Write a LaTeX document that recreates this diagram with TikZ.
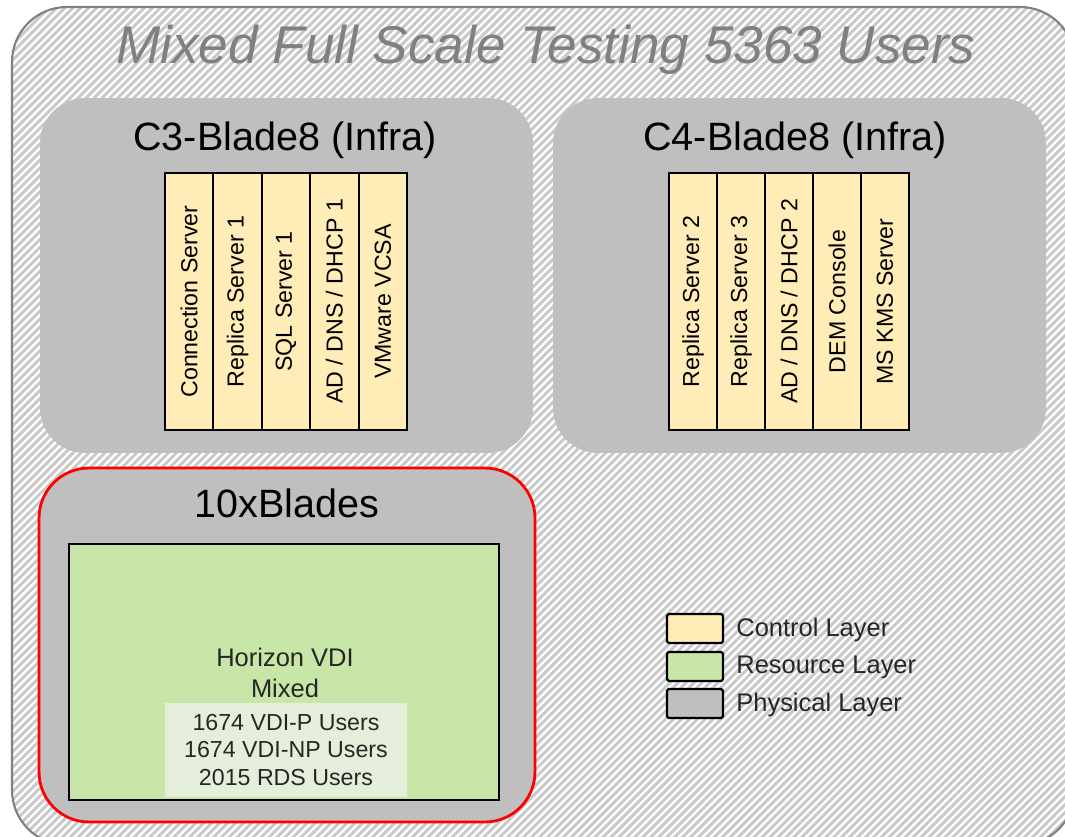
\documentclass[tikz,border=0pt]{standalone}
\usepackage{fontspec}
\setmainfont{Liberation Sans}
\usepackage{xcolor}
\usepackage{tikz}
\usetikzlibrary{patterns.meta}
\definecolor{ctrlfill}{RGB}{255,236,182}
\definecolor{resfill}{RGB}{200,230,168}
\definecolor{physfill}{RGB}{191,191,191}
\definecolor{statfill}{RGB}{229,238,218}
\definecolor{framegray}{RGB}{128,128,128}
\tikzset{
  hostbox/.style={fill=physfill,rounded corners=0.9cm,inner sep=0pt,
    minimum width=9.86cm,minimum height=7.1cm},
  vmbox/.style={draw=black,line width=1.1pt,fill=ctrlfill,rotate=90,inner sep=0pt,
    minimum width=5.14cm,minimum height=0.97cm,font=\fontsize{13.2}{15}\selectfont},
  hosttitle/.style={anchor=base,font=\fontsize{22.5}{26}\selectfont},
  legendbox/.style={draw=black,line width=1.3pt,rounded corners=1pt,inner sep=0pt,
    minimum width=1.12cm,minimum height=0.58cm},
  legendlabel/.style={anchor=base west,inner sep=0pt,font=\fontsize{14.5}{17}\selectfont,
    text=black!85},
  poollabel/.style={align=center,text=black!85}
}
\begin{document}
\begin{tikzpicture}[x=0.02cm,y=-0.02cm]
  \useasboundingbox (0,0) rectangle (1065,836);
  \clip (0,0) rectangle (1065,836);
  % hatched outer frame
  \draw[framegray,line width=1.2pt,rounded corners=1.1cm,preaction={fill=white},
    pattern={Lines[angle=45,distance=3.2pt,line width=1.7pt]},pattern color=gray!42]
    (12,7) rectangle (1075,845);
  \node[anchor=base,font=\fontsize{30.2}{34}\selectfont\itshape,text=framegray] (maintitle)
    at (546,63) {Mixed Full Scale Testing 5363 Users};
  % C3 host
  \node[hostbox] (c3host) at (286.5,275.5) {};
  \node[hosttitle] (c3title) at (285,150) {C3-Blade8 (Infra)};
  \node[vmbox] (c3conn) at (189.2,301.5) {Connection Server};
  \node[vmbox] (c3repl) at (237.6,301.5) {Replica Server 1};
  \node[vmbox] (c3sql) at (286.0,301.5) {SQL Server 1};
  \node[vmbox] (c3ad) at (334.4,301.5) {AD / DNS / DHCP 1};
  \node[vmbox] (c3vcsa) at (382.8,301.5) {VMware VCSA};
  % C4 host
  \node[hostbox] (c4host) at (799.5,275.5) {};
  \node[hosttitle] (c4title) at (795,150) {C4-Blade8 (Infra)};
  \node[vmbox] (c4repltwo) at (693,301.5) {Replica Server 2};
  \node[vmbox] (c4replthree) at (741,301.5) {Replica Server 3};
  \node[vmbox] (c4ad) at (789,301.5) {AD / DNS / DHCP 2};
  \node[vmbox] (c4dem) at (837,301.5) {DEM Console};
  \node[vmbox] (c4kms) at (885,301.5) {MS KMS Server};
  % resource blades
  \node[hostbox,draw=red,line width=1.6pt,rounded corners=1cm,minimum width=9.92cm,
    minimum height=7.08cm] (bladehost) at (287,645) {};
  \node[hosttitle] (bladetitle) at (287,517) {10xBlades};
  \node[draw=black,line width=1.2pt,fill=resfill,inner sep=0pt,minimum width=8.6cm,
    minimum height=5.12cm] (vdipool) at (284,672) {};
  \node[poollabel,font=\fontsize{14.5}{17.6}\selectfont] (vdilabel) at (285,673)
    {Horizon VDI\\Mixed};
  \node[poollabel,fill=statfill,inner sep=0pt,minimum width=4.84cm,minimum height=1.88cm,
    font=\fontsize{13.2}{15.6}\selectfont] (vdistats) at (286,750)
    {1674 VDI-P Users\\1674 VDI-NP Users\\2015 RDS Users};
  % legend
  \node[legendbox,fill=ctrlfill] (legctrl) at (695,628.5) {};
  \node[legendbox,fill=resfill] (legres) at (695,666.5) {};
  \node[legendbox,fill=physfill] (legphys) at (695,703.5) {};
  \node[legendlabel] (legctrltext) at (736,636) {Control Layer};
  \node[legendlabel] (legrestext) at (736,673) {Resource Layer};
  \node[legendlabel] (legphystext) at (736,711) {Physical Layer};
\end{tikzpicture}
\end{document}
